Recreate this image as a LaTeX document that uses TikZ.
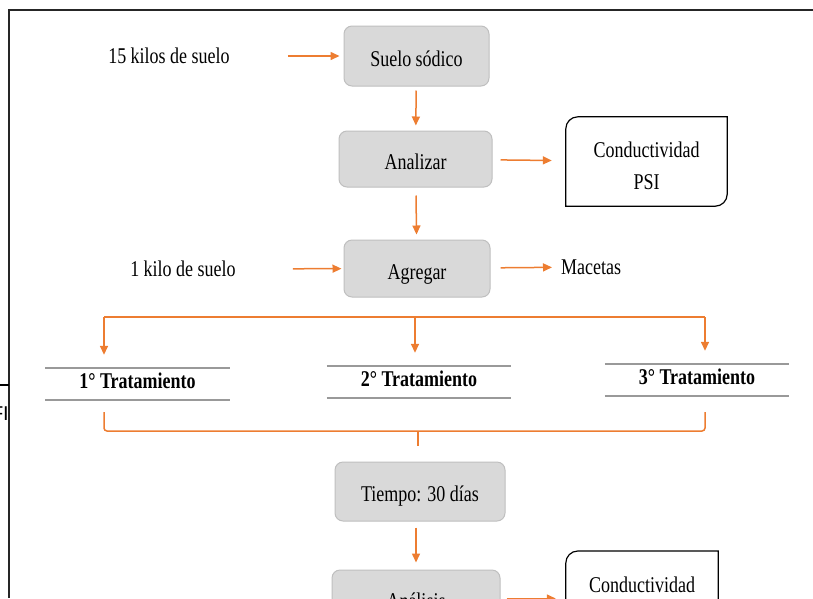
\documentclass[tikz,border=0pt]{standalone}
\usepackage{fontspec}
\setmainfont{Liberation Serif}[FakeStretch=0.8]
\newfontfamily\sansfam{Liberation Sans}
\usetikzlibrary{arrows.meta}
\definecolor{naranja}{HTML}{ED7D31}
\definecolor{cajagris}{HTML}{D9D9D9}
\definecolor{bordegris}{HTML}{BFBFBF}

\begin{document}
\begin{tikzpicture}[x=1pt,y=-1pt,
	every node/.style={font=\fontsize{22.5}{32}\selectfont,inner sep=0pt},
	caja/.style={rectangle,rounded corners=8pt,fill=cajagris,draw=bordegris,line width=1pt,text height=20pt,text depth=0pt},
	resultado/.style={rectangle,minimum width=161pt,minimum height=89pt,align=center,text height=16pt,text depth=22.4pt},
	tratamiento/.style={minimum width=184pt,minimum height=32pt,text height=12.6pt,text depth=4pt,font=\fontsize{22.5}{32}\selectfont\bfseries},
	raya/.style={black!40,line width=2pt},
	linea/.style={naranja,line width=1.5pt},
	flecha/.style={linea,-{Triangle[length=9pt,width=8pt]}}]
		\useasboundingbox (0,0) rectangle (813,598);
		\clip (0,0) rectangle (813,598);
		% marco
		\draw[line width=2pt,black!85] (9,598) -- (9,10) -- (813,10);
		\draw[line width=1.5pt] (0,385) -- (9,385);
		\node[font=\sansfam\fontsize{20}{22}\selectfont,anchor=east] (fi) at (9,414) {FI};
		% nodos
		\node (kilos15) at (169,56) {15 kilos de suelo};
		\node[caja,minimum width=145pt,minimum height=60pt] (suelo) at (416.5,56) {Suelo sódico};
		\node[caja,minimum width=153pt,minimum height=56pt] (analizar) at (415.5,159) {Analizar};
		\node[resultado,text height=55pt,text depth=0pt] (cond1) at (646.5,161.5) {Conductividad\\PSI};
		\node (kilo1) at (183,269) {1 kilo de suelo};
		\node[caja,minimum width=146pt,minimum height=57pt,text height=22pt] (agregar) at (417,268.5) {Agregar};
		\node[anchor=west] (macetas) at (561,267) {Macetas};
		\node[tratamiento] (t1) at (137.5,384) {1° Tratamiento};
		\node[tratamiento] (t2) at (419,382) {2° Tratamiento};
		\node[tratamiento] (t3) at (697,380) {3° Tratamiento};
		\node[caja,minimum width=170pt,minimum height=59pt] (tiempo) at (420,491.5) {Tiempo: 30 días};
		\node[caja,minimum width=168pt,minimum height=57pt] (analisis) at (416,598.5) {Análisis};
		\node[resultado,minimum width=152pt,anchor=north] (cond2) at (642,551) {Conductividad};
		\foreach \n in {cond1,cond2}
			\draw[line width=1.2pt] (\n.south west) -- ([yshift=-12pt]\n.north west) arc[start angle=180,end angle=90,radius=12pt]
				-- (\n.north east) -- ([yshift=12pt]\n.south east) arc[start angle=0,end angle=-90,radius=12pt] -- cycle;
		\foreach \n in {t1,t2,t3} {
			\draw[raya] (\n.north west) -- (\n.north east);
			\draw[raya] (\n.south west) -- (\n.south east);
		}
		% flechas
		\draw[flecha,shorten <=58pt,shorten >=4pt] (kilos15) -- (suelo);
		\draw[flecha,shorten <=4pt,shorten >=5pt] (suelo) -- (analizar);
		\draw[flecha,shorten <=8pt,shorten >=14pt] (analizar) -- (cond1);
		\draw[flecha,shorten <=8pt,shorten >=5pt] (analizar) -- (agregar);
		\draw[flecha,shorten <=57pt,shorten >=2pt] (kilo1) -- (agregar);
		\draw[flecha,shorten <=10pt,shorten >=9pt] (agregar) -- (macetas);
		\coordinate (r1) at (104,317);
		\coordinate (r2) at (415,317);
		\coordinate (r3) at (705,317);
		\draw[linea] (r1) -- (r3);
		\foreach \r/\t in {r1/t1,r2/t2,r3/t3}
			\draw[flecha,shorten >=13pt] (\r) -- (\r |- \t.north);
		% llave
		\coordinate (b1) at (104,412);
		\coordinate (b3) at (705,412);
		\coordinate (llave) at (418,431);
		\draw[linea,rounded corners=3pt] (b1) |- (llave) -| (b3);
		\draw[linea] (llave) -- ++(0,15);
		\draw[flecha,shorten <=6pt,shorten >=7pt] (analisis.north |- tiempo.south) -- (analisis.north);
		\draw[flecha,shorten <=6pt,shorten >=10pt] (analisis.east) -- (analisis.east -| cond2.west);
	\end{tikzpicture}
\end{document}
